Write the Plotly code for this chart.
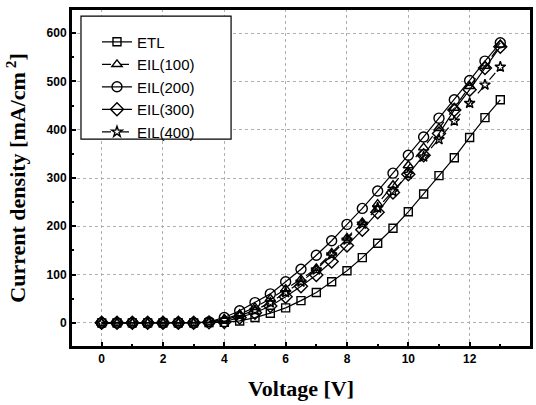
import plotly.graph_objects as go

voltage = [0, 0.5, 1, 1.5, 2, 2.5, 3, 3.5, 4, 4.5, 5, 5.5, 6, 6.5, 7, 7.5, 8, 8.5, 9, 9.5, 10, 10.5, 11, 11.5, 12, 12.5, 13]

etl = [0, 0, 0, 0, 0, 0, 0, 0.5, 1, 4, 11, 20, 31, 46, 63, 85, 108, 135, 165, 196, 230, 267, 305, 342, 384, 425, 462]
eil100 = [0, 0, 0, 0, 0, 0, 0, 2, 8, 18, 32, 50, 70, 90, 113, 145, 176, 208, 246, 285, 326, 363, 403, 445, 490, 532, 576]
eil200 = [0, 0, 0, 0, 0, 0, 0, 2, 11, 25, 42, 60, 85, 111, 140, 170, 204, 237, 273, 310, 347, 385, 424, 462, 502, 542, 580]
eil300 = [0, 0, 0, 0, 0, 0, 0, 1, 2, 11, 21, 35, 54, 76, 99, 127, 160, 193, 229, 270, 308, 347, 392, 441, 483, 528, 572]
eil400 = [0, 0, 0, 0, 0, 0, 0, 1, 6, 15, 26, 42, 63, 85, 110, 141, 172, 205, 238, 272, 308, 344, 380, 418, 455, 493, 530]

series_names = ["ETL", "EIL(100)", "EIL(200)", "EIL(300)", "EIL(400)"]
series_values = [etl, eil100, eil200, eil300, eil400]
symbols = ["square-open", "triangle-up-open", "circle-open", "diamond-open", "star-open"]
dashes = ["solid", "dash", "solid", "solid", "dash"]
sizes = [8, 9, 10, 10, 8]

x_tickvals = [0, 2, 4, 6, 8, 10, 12, 14]
y_tickvals = [0, 100, 200, 300, 400, 500, 600]

fig = go.Figure()
for name, vals, sym, dsh, sz in zip(series_names, series_values, symbols, dashes, sizes):
    fig.add_trace(go.Scatter(
        x=voltage, y=vals, name=name, mode="lines+markers",
        line=dict(color="black", width=1.2, dash=dsh),
        marker=dict(symbol=sym, size=sz, color="black", line=dict(color="black", width=1.4)),
    ))

axis_common = dict(
    automargin=False,
    showline=True, linecolor="black", linewidth=2, mirror=True,
    ticks="inside", tickcolor="black", ticklen=5, tickwidth=1.5,
    showgrid=True, gridcolor="#b0b0b0", griddash="dot", gridwidth=1,
    zeroline=False,
    tickfont=dict(family="Liberation Sans, Arial", size=12, color="black", weight="bold"),
)

fig.update_xaxes(
    range=[-1, 14.001], tickvals=x_tickvals,
    minor=dict(dtick=1, ticks="inside", ticklen=3, tickcolor="black", showgrid=False),
    title=dict(text="<b>Voltage [V]</b>", font=dict(family="Liberation Serif, Times New Roman", size=22, color="black")),
    **axis_common,
)
fig.update_yaxes(
    range=[-50, 650], tickvals=y_tickvals,
    minor=dict(dtick=50, ticks="inside", ticklen=3, tickcolor="black", showgrid=False),
    title=dict(text="<b>Current density [mA/cm<sup> 2</sup>]</b>", font=dict(family="Liberation Serif, Times New Roman", size=22, color="black")),
    **axis_common,
)

# plot frame
fig.add_shape(type="rect", xref="paper", yref="paper", x0=0, x1=1, y0=0, y1=1,
              line=dict(color="black", width=2), fillcolor="rgba(0,0,0,0)", layer="above")

# legend frame
fig.add_shape(type="rect", xref="paper", yref="paper",
              x0=0.0217, x1=0.348, y0=0.615, y1=0.979,
              line=dict(color="black", width=1.2), fillcolor="white", layer="above")

fig.update_layout(
    width=536, height=405,
    margin=dict(l=71, r=5, t=9, b=58),
    paper_bgcolor="white", plot_bgcolor="white",
    showlegend=True,
    legend=dict(
        x=0.0565, y=0.951, xanchor="left", yanchor="top",
        bgcolor="rgba(0,0,0,0)", borderwidth=0,
        font=dict(family="Liberation Sans, Arial", size=15, color="black"),
        tracegroupgap=0, itemwidth=30,
    ),
)

fig.write_html(
    "out.html",
    config={"displayModeBar": False},
    post_script=(
        "document.body.style.margin='0px';"
        "document.body.style.overflow='hidden';"
        "document.documentElement.style.overflow='hidden';"
        "var d=document.getElementsByClassName('plotly-graph-div')[0];"
        "d.style.position='fixed';d.style.left='0px';d.style.top='0px';"
    ),
)
